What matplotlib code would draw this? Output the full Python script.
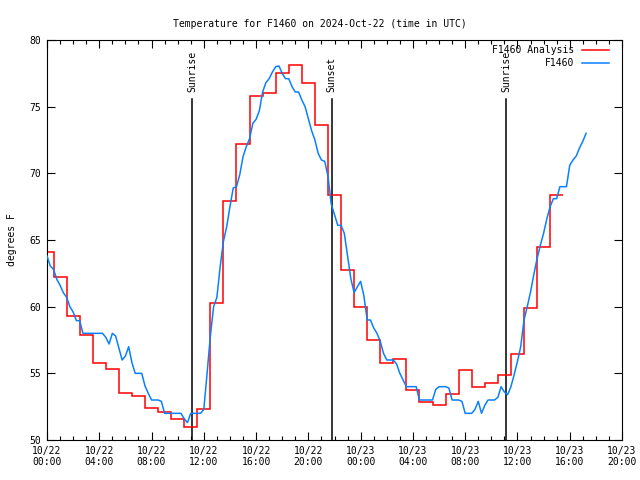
#!/usr/bin/env python3
"""
Temperature for F1460 on 2024-Oct-22: analysis vs observation
"""

import matplotlib
matplotlib.use('Agg')
import matplotlib.pyplot as plt
import numpy as np

plt.rcParams['font.family'] = ['DejaVu Sans Mono']
plt.rcParams['font.size'] = 7

# hours since 2024-10-22 00:00 UTC
red_hours = np.arange(0, 40)
red_temp = [64.1, 62.2, 59.3, 57.9, 55.8, 55.3, 53.5, 53.3, 52.4, 52.1,
            51.6, 51.0, 52.3, 60.3, 67.9, 72.2, 75.8, 76.0, 77.5, 78.1,
            76.75, 73.6, 68.4, 62.75, 60.0, 57.5, 55.8, 56.05, 53.75, 52.85,
            52.65, 53.45, 55.25, 53.95, 54.25, 54.85, 56.45, 59.9, 64.45, 68.35]

# station observations, every 15 minutes
blue_temp = [
    63.8, 63.05, 62.8, 62.05,
    61.6, 61.05, 60.7, 60.0,
    59.6, 58.95, 58.95, 58.0,
    58.0, 58.0, 58.0, 58.0,
    58.0, 58.0, 57.7, 57.2,
    58.0, 57.8, 56.9, 56.0,
    56.3, 57.0, 55.8, 55.0,
    55.0, 55.0, 54.05, 53.5,
    53.0, 53.0, 53.0, 52.9,
    52.0, 52.0, 52.0, 52.0,
    52.0, 52.0, 51.6, 51.3,
    52.0, 52.0, 52.0, 52.0,
    52.3, 55.0, 57.8, 60.0,
    60.7, 63.0, 64.9, 66.0,
    67.5, 68.9, 69.0, 69.9,
    71.25, 72.0, 72.6, 73.75,
    74.05, 74.7, 76.1, 76.8,
    77.1, 77.6, 78.0, 78.05,
    77.5, 77.1, 77.1, 76.5,
    76.1, 76.1, 75.5, 75.0,
    74.1, 73.2, 72.5, 71.5,
    71.0, 70.9, 69.8, 67.7,
    66.9, 66.1, 66.1, 65.5,
    63.8, 62.1, 61.05, 61.5,
    61.9, 60.8, 59.0, 59.0,
    58.4, 58.0, 57.4, 56.5,
    56.0, 56.0, 56.0, 55.7,
    55.0, 54.5, 54.0, 54.0,
    54.0, 54.0, 53.0, 53.0,
    53.0, 53.0, 53.0, 53.8,
    54.0, 54.0, 54.0, 53.9,
    53.0, 53.0, 53.0, 52.9,
    52.0, 52.0, 52.0, 52.3,
    52.9, 52.0, 52.6, 53.0,
    53.0, 53.0, 53.2, 54.0,
    53.6, 53.4, 54.0, 54.9,
    55.9, 57.0, 59.0, 60.0,
    61.1, 62.4, 63.6, 64.6,
    65.5, 66.6, 67.5, 68.1,
    68.1, 69.0, 69.0, 69.0,
    70.6, 71.0, 71.3, 71.9,
    72.4, 73.0,
]
blue_hours = np.arange(len(blue_temp)) * 0.25

# sun events (hours)
sun_hours = [11.12, 21.78, 35.15]
sun_labels = ['Sunrise', 'Sunset', 'Sunrise']

tick_hours = np.arange(0, 45, 4)
tick_labels = ['10/22\n00:00', '10/22\n04:00', '10/22\n08:00', '10/22\n12:00',
               '10/22\n16:00', '10/22\n20:00', '10/23\n00:00', '10/23\n04:00',
               '10/23\n08:00', '10/23\n12:00', '10/23\n16:00', '10/23\n20:00']

fig = plt.figure(figsize=(6.4, 4.8), dpi=100)
ax = fig.add_axes([47 / 640, 40 / 480, 575 / 640, 400 / 480])

# sunrise / sunset markers
for h, lab in zip(sun_hours, sun_labels):
    ax.plot([h, h], [50, 75.55], color='black', linewidth=1.1, zorder=1)
    ax.text(h, 76.1, lab, rotation=90, ha='center', va='bottom', fontsize=7)

edges = np.append(red_hours - 0.5, red_hours[-1] + 0.5)
ax.stairs(red_temp, edges, baseline=None, color='#ff0000', linewidth=1.1, zorder=2)
ax.plot(blue_hours, blue_temp, color='#0a80ff', linewidth=1.1, zorder=3)

ax.set_xlim(0, 44)
ax.set_ylim(50, 80)
ax.set_xticks(tick_hours)
ax.set_xticklabels(tick_labels)
ax.set_xticks(np.arange(0, 45, 1), minor=True)
ax.set_yticks(np.arange(50, 81, 5))
ax.tick_params(which='both', direction='in', top=True, right=True, width=0.8)
ax.tick_params(which='major', length=6, pad=4)
ax.tick_params(which='minor', length=3)
for s in ax.spines.values():
    s.set_linewidth(0.8)

ax.set_ylabel('degrees F')
ax.yaxis.set_label_coords(-0.052, 0.5)
fig.suptitle('Temperature for F1460 on 2024-Oct-22 (time in UTC)', y=0.96, fontsize=7)

# gnuplot style key, right aligned text
ax.text(0.9165, 0.975, 'F1460 Analysis', transform=ax.transAxes, ha='right', va='center')
ax.plot([0.930, 0.978], [0.975, 0.975], transform=ax.transAxes, color='#ff0000', linewidth=1.1)
ax.text(0.9165, 0.943, 'F1460', transform=ax.transAxes, ha='right', va='center')
ax.plot([0.930, 0.978], [0.943, 0.943], transform=ax.transAxes, color='#0a80ff', linewidth=1.1)

fig.savefig('out.png', dpi=100, facecolor='white')
